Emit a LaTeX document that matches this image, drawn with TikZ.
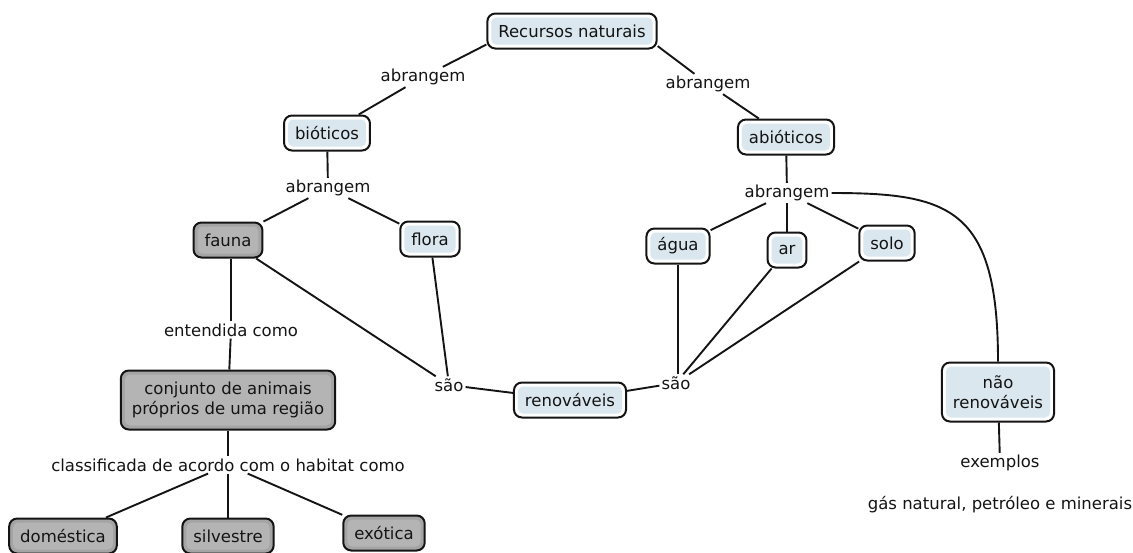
\documentclass[tikz,border=0pt]{standalone}
\usepackage{fontspec}
\setmainfont{DejaVu Sans}
\definecolor{inkline}{HTML}{141414}
\definecolor{paleblue}{HTML}{DAE7EE}
\definecolor{greyout}{HTML}{A4A4A4}
\definecolor{greyin}{HTML}{B4B4B4}
\begin{document}
\begin{tikzpicture}[x=1pt,y=-1pt,
  every node/.style={text=inkline, font=\fontsize{16.5}{19.5}\selectfont},
  concept/.style={draw=inkline, line width=2pt, rounded corners=8pt,
    fill=white, inner xsep=11pt, inner ysep=7pt, minimum height=35pt, align=center,
    path picture={\fill[paleblue, rounded corners=5pt]
      ([shift={(4pt,-4pt)}]path picture bounding box.north west) rectangle
      ([shift={(-4pt,4pt)}]path picture bounding box.south east);}},
  greyconcept/.style={concept, fill=greyout,
    path picture={\fill[greyin, rounded corners=5pt]
      ([shift={(4pt,-4pt)}]path picture bounding box.north west) rectangle
      ([shift={(-4pt,4pt)}]path picture bounding box.south east);}},
  twoline/.style={minimum height=59pt},
  linkword/.style={inner sep=2pt},
  link/.style={draw=inkline, line width=1.9pt}]
\useasboundingbox (0,0) rectangle (1133,552);

% concepts
\node[concept] (rec) at (572,31) {Recursos naturais};
\node[concept] (bio) at (327,133) {bióticos};
\node[concept] (abio) at (786,137) {abióticos};
\node[greyconcept] (fauna) at (228,240) {fauna};
\node[concept] (flora) at (430,239) {flora};
\node[concept] (agua) at (678,246) {água};
\node[concept] (ar) at (787,250) {ar};
\node[concept] (solo) at (887,243) {solo};
\node[concept] (renov) at (570,400) {renováveis};
\node[concept, twoline] (naorenov) at (998,392) {não\\renováveis};
\node[greyconcept, twoline] (conj) at (228,400) {conjunto de animais\\próprios de uma região};
\node[greyconcept] (dom) at (63,536) {doméstica};
\node[greyconcept] (silv) at (228,536) {silvestre};
\node[greyconcept] (exo) at (384,533) {exótica};

% linking phrases
\node[linkword] (abrL) at (423,77) {abrangem};
\node[linkword] (abrR) at (708,84) {abrangem};
\node[linkword] (abrB) at (328,188) {abrangem};
\node[linkword] (abrA) at (787,193) {abrangem};
\node[linkword] (entend) at (231,330) {entendida como};
\node[linkword] (classif) at (228,465) {classificada de acordo com o habitat como};
\node[linkword] (saoL) at (449,385) {são};
\node[linkword] (saoR) at (676,383) {são};
\node[linkword] (exemplos) at (1000,463) {exemplos};
\node[linkword] (gas) at (1000,505) {gás natural, petróleo e minerais};

% connectors
\draw[link] (rec.189) -- (abrL);
\draw[link] (abrL) -- (bio);
\draw[link] (rec.-10) -- (abrR);
\draw[link] (abrR) -- (abio);
\draw[link] (bio) -- (abrB);
\draw[link] (abrB) -- (fauna);
\draw[link] (abrB) -- (flora);
\draw[link] (abio) -- (abrA);
\draw[link] (abrA) -- (agua);
\draw[link] (abrA) -- (ar);
\draw[link] (abrA) -- (solo);
\draw[link] (abrA.east) .. controls (950,193) and (998,208) .. (naorenov.north);
\draw[link] (fauna.south -| entend) -- (entend);
\draw[link] (entend) -- (conj);
\draw[link] (conj) -- (classif);
\draw[link] (classif) -- (dom);
\draw[link] (classif) -- (silv);
\draw[link] (classif) -- (exo);
\draw[link] (fauna) -- (saoL);
\draw[link] (flora) -- (saoL);
\draw[link] (saoL) -- (renov);
\draw[link] (renov) -- (saoR);
\draw[link] (agua) -- (agua |- saoR.north);
\draw[link] (ar) -- (saoR);
\draw[link] (solo) -- (saoR);
\draw[link] (naorenov) -- (exemplos);
\end{tikzpicture}
\end{document}
